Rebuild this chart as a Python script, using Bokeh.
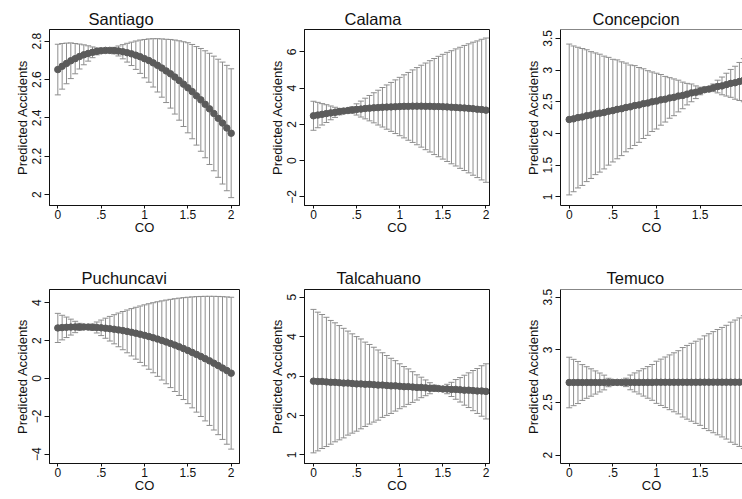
from bokeh.plotting import figure
from bokeh.layouts import row, column
from bokeh.models import FixedTicker, CustomJSTickFormatter, Range1d, Span, ColumnDataSource
from bokeh.embed import file_html
from bokeh.resources import INLINE

co = [0.0, 0.05, 0.1, 0.15, 0.2, 0.25, 0.3, 0.35, 0.4, 0.45, 0.5, 0.55, 0.6, 0.65, 0.7, 0.75,
      0.8, 0.85, 0.9, 0.95, 1.0, 1.05, 1.1, 1.15, 1.2, 1.25, 1.3, 1.35, 1.4, 1.45, 1.5, 1.55,
      1.6, 1.65, 1.7, 1.75, 1.8, 1.85, 1.9, 1.95, 2.0]
x_ticks = [0, 0.5, 1, 1.5, 2]

santiago_est = [2.652, 2.669, 2.684, 2.698, 2.709, 2.720, 2.729, 2.736, 2.742, 2.747, 2.750,
                2.752, 2.752, 2.751, 2.749, 2.745, 2.740, 2.734, 2.727, 2.719, 2.709, 2.699,
                2.687, 2.674, 2.660, 2.645, 2.630, 2.613, 2.595, 2.576, 2.557, 2.537, 2.515,
                2.494, 2.471, 2.447, 2.423, 2.398, 2.373, 2.347, 2.320]
santiago_moe = [0.132, 0.119, 0.106, 0.093, 0.079, 0.065, 0.052, 0.040, 0.028, 0.018, 0.010,
                0.006, 0.010, 0.017, 0.026, 0.037, 0.049, 0.061, 0.074, 0.087, 0.100, 0.113,
                0.126, 0.139, 0.152, 0.165, 0.179, 0.193, 0.207, 0.221, 0.235, 0.246, 0.257,
                0.268, 0.279, 0.290, 0.299, 0.308, 0.318, 0.327, 0.336]
santiago_yticks = [2, 2.2, 2.4, 2.6, 2.8]

calama_est = [2.47, 2.51, 2.55, 2.59, 2.63, 2.66, 2.70, 2.73, 2.76, 2.79, 2.82, 2.84, 2.87,
              2.89, 2.91, 2.92, 2.94, 2.95, 2.96, 2.97, 2.98, 2.99, 2.99, 3.00, 3.00, 3.00,
              2.99, 2.99, 2.98, 2.98, 2.97, 2.96, 2.94, 2.93, 2.91, 2.90, 2.88, 2.86, 2.83,
              2.81, 2.78]
calama_moe = [0.80, 0.70, 0.59, 0.49, 0.38, 0.28, 0.18, 0.09, 0.05, 0.18, 0.31, 0.44, 0.57,
              0.70, 0.83, 0.96, 1.09, 1.22, 1.35, 1.48, 1.61, 1.74, 1.87, 2.00, 2.13, 2.26,
              2.39, 2.52, 2.65, 2.77, 2.89, 3.01, 3.12, 3.23, 3.34, 3.45, 3.56, 3.67, 3.77,
              3.88, 3.98]
calama_yticks = [-2, 0, 2, 4, 6]

concepcion_est = [2.22, 2.23, 2.25, 2.26, 2.28, 2.29, 2.31, 2.32, 2.33, 2.35, 2.36, 2.38, 2.39,
                  2.41, 2.42, 2.44, 2.45, 2.47, 2.48, 2.50, 2.51, 2.53, 2.54, 2.56, 2.57, 2.59,
                  2.60, 2.62, 2.64, 2.65, 2.67, 2.69, 2.70, 2.72, 2.74, 2.75, 2.77, 2.79, 2.80,
                  2.82, 2.84]
concepcion_moe = [1.19, 1.15, 1.11, 1.08, 1.04, 1.00, 0.96, 0.93, 0.89, 0.85, 0.81, 0.78, 0.74,
                  0.70, 0.66, 0.63, 0.59, 0.55, 0.51, 0.47, 0.44, 0.40, 0.36, 0.32, 0.29, 0.25,
                  0.21, 0.17, 0.14, 0.10, 0.06, 0.03, 0.03, 0.06, 0.10, 0.14, 0.18, 0.22, 0.26,
                  0.30, 0.34]
concepcion_yticks = [1, 1.5, 2, 2.5, 3, 3.5]

puchuncavi_est = [2.670, 2.689, 2.703, 2.714, 2.721, 2.723, 2.722, 2.717, 2.707, 2.694, 2.676,
                  2.655, 2.629, 2.600, 2.566, 2.528, 2.487, 2.441, 2.391, 2.338, 2.280, 2.218,
                  2.152, 2.083, 2.009, 1.931, 1.849, 1.763, 1.673, 1.579, 1.481, 1.379, 1.273,
                  1.163, 1.049, 0.931, 0.809, 0.683, 0.552, 0.418, 0.280]
puchuncavi_moe = [0.77, 0.65, 0.54, 0.42, 0.30, 0.19, 0.08, 0.06, 0.17, 0.29, 0.41, 0.53, 0.65,
                  0.77, 0.89, 1.01, 1.13, 1.25, 1.37, 1.49, 1.61, 1.73, 1.85, 1.97, 2.09, 2.21,
                  2.33, 2.45, 2.57, 2.69, 2.81, 2.93, 3.05, 3.17, 3.29, 3.41, 3.53, 3.65, 3.77,
                  3.89, 4.01]
puchuncavi_yticks = [-4, -2, 0, 2, 4]

talcahuano_est = [2.87, 2.86, 2.86, 2.85, 2.84, 2.84, 2.83, 2.82, 2.82, 2.81, 2.80, 2.80, 2.79,
                  2.79, 2.78, 2.77, 2.77, 2.76, 2.75, 2.75, 2.74, 2.73, 2.73, 2.72, 2.71, 2.71,
                  2.70, 2.69, 2.69, 2.68, 2.67, 2.67, 2.66, 2.66, 2.65, 2.64, 2.64, 2.63, 2.62,
                  2.62, 2.61]
talcahuano_moe = [1.82, 1.76, 1.70, 1.64, 1.57, 1.51, 1.45, 1.39, 1.32, 1.26, 1.20, 1.14, 1.07,
                  1.01, 0.95, 0.89, 0.82, 0.76, 0.70, 0.64, 0.57, 0.51, 0.45, 0.39, 0.32, 0.26,
                  0.20, 0.14, 0.08, 0.04, 0.06, 0.12, 0.18, 0.25, 0.31, 0.38, 0.44, 0.51, 0.57,
                  0.64, 0.70]
talcahuano_yticks = [1, 2, 3, 4, 5]

temuco_est = [2.690, 2.690, 2.690, 2.690, 2.690, 2.690, 2.690, 2.690, 2.690, 2.690, 2.691,
              2.691, 2.691, 2.691, 2.691, 2.691, 2.691, 2.691, 2.691, 2.691, 2.692, 2.692,
              2.692, 2.692, 2.692, 2.692, 2.692, 2.692, 2.692, 2.692, 2.693, 2.693, 2.693,
              2.693, 2.693, 2.693, 2.693, 2.693, 2.693, 2.693, 2.694]
temuco_moe = [0.24, 0.22, 0.20, 0.17, 0.15, 0.13, 0.11, 0.09, 0.07, 0.04, 0.02, 0.01, 0.02,
              0.04, 0.07, 0.09, 0.11, 0.13, 0.15, 0.17, 0.20, 0.22, 0.24, 0.26, 0.28, 0.30,
              0.33, 0.35, 0.37, 0.39, 0.41, 0.44, 0.46, 0.48, 0.50, 0.52, 0.54, 0.57, 0.59,
              0.61, 0.63]
temuco_yticks = [2, 2.5, 3, 3.5]

FONT = "Liberation Sans"
DOT = "#5b5b5b"
BAR = "#8e8e8e"
INK = "#111111"

fmt_code = """
var s = (Math.round(tick * 1000) / 1000).toString();
if (s.indexOf('0.') === 0) { s = s.substring(1); }
if (s.indexOf('-0.') === 0) { s = '-' + s.substring(2); }
return s.replace('-', '\u2212');
"""


def panel(title, est, moe, yticks, xr, yr, width, height, mbl, mbr, mbt, mbb, toff, tstand,
          open_right=False):
    p = figure(width=width, height=height, x_range=Range1d(*xr), y_range=Range1d(*yr),
               output_backend="svg", toolbar_location=None,
               min_border_left=mbl, min_border_right=mbr, min_border_top=mbt, min_border_bottom=mbb,
               title=title)
    p.title.align = "left"
    p.title.text_font = FONT
    p.title.text_font_size = "16.5px"
    p.title.text_font_style = "normal"
    p.title.text_color = INK
    p.title.offset = toff
    p.title.standoff = tstand
    p.background_fill_color = "white"
    p.border_fill_color = "white"
    p.xgrid.visible = False
    p.ygrid.visible = False
    if open_right:
        p.outline_line_color = None
        p.add_layout(Span(location=yr[1], dimension="width", line_color=INK, line_width=1))
    else:
        p.outline_line_color = INK
        p.outline_line_width = 1
        p.outline_line_alpha = 1

    lo = [m - e for m, e in zip(est, moe)]
    hi = [m + e for m, e in zip(est, moe)]
    src = ColumnDataSource(dict(x=co, y=est, lo=lo, hi=hi))
    p.segment(x0="x", y0="lo", x1="x", y1="hi", source=src, line_color=BAR, line_width=1)
    p.scatter("x", "lo", marker="dash", size=6, line_color=BAR, line_width=1, source=src)
    p.scatter("x", "hi", marker="dash", size=6, line_color=BAR, line_width=1, source=src)
    p.scatter("x", "y", marker="circle", size=6.5, fill_color=DOT, line_color=DOT,
              line_width=1, source=src)

    xa = p.xaxis[0]
    xa.ticker = FixedTicker(ticks=x_ticks)
    xa.formatter = CustomJSTickFormatter(code=fmt_code)
    xa.axis_label = "CO"
    xa.major_tick_out = 3
    xa.major_tick_in = 0
    xa.major_label_standoff = 1
    xa.axis_label_standoff = -2

    ya = p.yaxis[0]
    ya.ticker = FixedTicker(ticks=yticks)
    ya.formatter = CustomJSTickFormatter(code=fmt_code)
    ya.axis_label = "Predicted Accidents"
    ya.major_label_orientation = "vertical"
    ya.major_tick_out = 5
    ya.major_tick_in = 0
    ya.major_label_standoff = 3
    ya.axis_label_standoff = 0

    for ax in (xa, ya):
        ax.minor_tick_line_color = None
        ax.axis_line_color = INK
        ax.major_tick_line_color = INK
        ax.major_label_text_font = FONT
        ax.major_label_text_font_size = "12px"
        ax.major_label_text_color = INK
        ax.axis_label_text_font = FONT
        ax.axis_label_text_font_size = "13px"
        ax.axis_label_text_font_style = "normal"
        ax.axis_label_text_color = INK
    return p


# row 1 (page origin at 0,0: Bokeh's page template has no body margin)
p1 = panel("Santiago", santiago_est, santiago_moe, santiago_yticks,
           (-0.096, 2.096), (1.943, 2.861), 264, 242, 49, 25, 29, 37, 39, 3)
p2 = panel("Calama", calama_est, calama_moe, calama_yticks,
           (-0.104, 2.041), (-2.48, 7.23), 256, 242, 40, 31, 29, 37, 40, 3)
p3 = panel("Concepcion", concepcion_est, concepcion_moe, concepcion_yticks,
           (-0.1, 1.985), (0.863, 3.64), 222, 242, 40, 0, 29, 37, 32, 3, open_right=True)
# row 2
p4 = panel("Puchuncavi", puchuncavi_est, puchuncavi_moe, puchuncavi_yticks,
           (-0.096, 2.096), (-4.49, 4.70), 264, 257, 49, 25, 47, 36, 32, 6)
p5 = panel("Talcahuano", talcahuano_est, talcahuano_moe, talcahuano_yticks,
           (-0.104, 2.041), (0.78, 5.195), 256, 257, 40, 31, 47, 36, 32, 6)
p6 = panel("Temuco", temuco_est, temuco_moe, temuco_yticks,
           (-0.1, 1.985), (1.921, 3.573), 222, 257, 40, 0, 47, 36, 46, 6, open_right=True)

layout = column(row(p1, p2, p3, spacing=0), row(p4, p5, p6, spacing=0), spacing=0)

open("out.html", "w").write(file_html(layout, INLINE))
